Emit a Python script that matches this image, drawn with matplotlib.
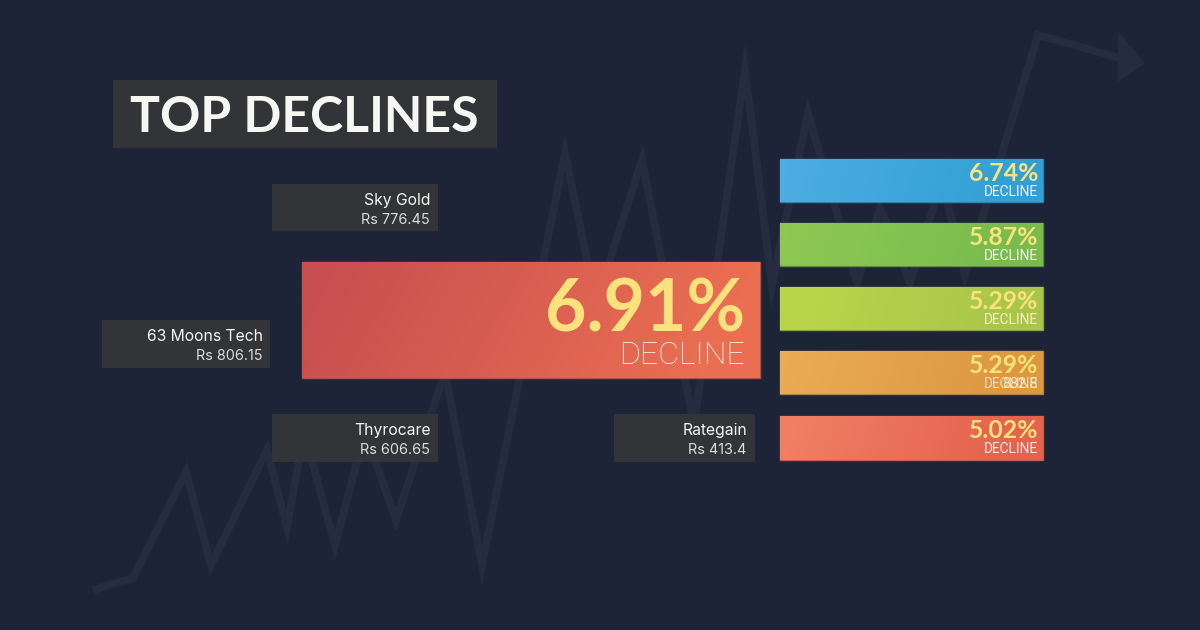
import numpy as np
import matplotlib
matplotlib.use("Agg")
import matplotlib.pyplot as plt
from matplotlib.colors import to_rgb
from matplotlib.patches import Polygon

# ---- data ----
title = "TOP DECLINES"
companies = ["Sky Gold", "63 Moons Tech", "Thyrocare", "Rategain"]
prices = ["Rs 776.45", "Rs 806.15", "Rs 606.65", "Rs 413.4"]
top_pct = ["6.91%"]
side_pct = ["6.74%", "5.87%", "5.29%", "5.29%", "5.02%"]
side_sub = ["DECLINE", "DECLINE", "DECLINE", "DECLINE", "DECLINE"]
ghost_text = "882.8"
trend_x = [93, 133, 186, 211, 267, 287, 304, 335, 365, 396, 445, 482, 565, 596, 642, 694, 745, 772, 808, 857, 880, 910, 942, 965, 1038, 1120]
trend_y = [590, 578, 472, 565, 450, 527, 432, 545, 432, 520, 372, 565, 153, 303, 160, 425, 70, 285, 113, 283, 208, 283, 180, 275, 35, 58]
arrow_x = [1118, 1118, 1145]
arrow_y = [32, 82, 63]

# ---- layout & styles (px) ----
BG = "#1e2437"
LINE = "#252c40"
BOX = "#333438"
YEL = "#fae27c"
WHITE = "#f6f6f3"
GREY = "#dcdcdc"
FONT = ["Lato", "DejaVu Sans"]
LABEL_FONT = ["Inter", "DejaVu Sans"]
THIN_FONT = ["Roboto", "DejaVu Sans"]

fig = plt.figure(figsize=(12, 6.3), dpi=100, facecolor=BG)
ax = fig.add_axes([0, 0, 1, 1])
ax.set_xlim(0, 1200)
ax.set_ylim(630, 0)
ax.axis("off")


def gradient_bar(x0, x1, y0, y1, c_left, c_right, edge, tilt=0.15, z=3):
    bar = ax.barh((y0 + y1) / 2, x1 - x0, height=y1 - y0, left=x0,
                  color=c_left, edgecolor=edge, linewidth=1, zorder=z)[0]
    n = 64
    xx, yy = np.meshgrid(np.linspace(0, 1, n), np.linspace(0, 1, n))
    t = np.clip((xx * (1 - tilt) + yy * tilt) * 1.2 - 0.05, 0, 1)[..., None]
    a, b = np.array(to_rgb(c_left)), np.array(to_rgb(c_right))
    img = a * (1 - t) + b * t
    im = ax.imshow(img, extent=(x0, x1, y1, y0), aspect="auto",
                   zorder=z + 0.1, interpolation="bilinear")
    im.set_clip_path(bar)
    ax.set_xlim(0, 1200)
    ax.set_ylim(630, 0)


def box(x0, x1, y0, y1, z=4):
    ax.barh((y0 + y1) / 2, x1 - x0, height=y1 - y0, left=x0, color=BOX,
            linewidth=0, zorder=z)


# background trend line
ax.plot(trend_x, trend_y, color=LINE, lw=5.6, solid_joinstyle="miter",
        solid_capstyle="butt", zorder=1)
ax.add_patch(Polygon(np.column_stack([arrow_x, arrow_y]), closed=True,
                     facecolor=LINE, edgecolor="none", zorder=1))

# title
box(113, 497, 80, 148)
ax.text(130, 114, title, color=WHITE, fontsize=36, fontweight="bold",
        family=FONT, ha="left", va="center_baseline", zorder=5)

# company labels
label_boxes = [(272, 438, 184, 231), (102, 270, 320, 368),
               (272, 438, 414, 462), (614, 755, 414, 462)]
label_right = [431, 263, 431, 747]
for name, price, b, xr in zip(companies, prices, label_boxes, label_right):
    box(*b)
    ax.text(xr, b[2] + 21, name, color=WHITE, fontsize=11.3, family=LABEL_FONT,
            ha="right", va="baseline", zorder=5)
    ax.text(xr - 1, b[2] + 40.5, price, color=GREY, fontsize=10.4, family=LABEL_FONT,
            ha="right", va="baseline", zorder=5)

# main bar
gradient_bar(302, 760, 262, 378, "#c84e50", "#ea6e52", "#b0504a", tilt=0.12)
ax.text(745, 331, top_pct[0], color=YEL, fontsize=51.5, fontweight="bold", family=FONT,
        ha="right", va="baseline", zorder=6)
ax.text(746, 364, "DECLINE", color=WHITE, fontsize=23, fontweight="light", family=THIN_FONT,
        ha="right", va="baseline", zorder=6)

# side bars
side_y = [(159, 202), (223, 265.5), (287, 330), (351, 394), (416, 460)]
side_left = ["#4cade2", "#8ec853", "#b9d64a", "#eaab55", "#f07f63"]
side_right = ["#32a0d4", "#79bc4d", "#a9c64b", "#dc983f", "#e5624f"]
side_edge = ["#2f7fae", "#5c8c42", "#86a03f", "#a88048", "#c85a48"]
sub_colors = ["#eef5f8", "#f0f5e4", "#f5f3b8", "#f6eeda", "#f8ece6"]
for i, (p, sub, (y0, y1)) in enumerate(zip(side_pct, side_sub, side_y)):
    gradient_bar(780, 1043, y0, y1, side_left[i], side_right[i], side_edge[i], tilt=0.05)
    ax.text(1038, y0 + 22, p, color=YEL, fontsize=17.8, fontweight="bold", family=FONT,
            ha="right", va="baseline", zorder=6)
    ax.text(1038, y0 + 37, sub, color=sub_colors[i], fontsize=9.9, family=THIN_FONT,
            ha="right", va="baseline", zorder=6, fontweight="normal",
            alpha=0.8 if i == 3 else 1.0)
ax.text(1038, side_y[3][0] + 37, ghost_text, color="#f4ecda", fontsize=10.4, family=THIN_FONT,
        ha="right", va="baseline", zorder=6, fontweight="normal", alpha=0.9)

fig.savefig("out.png", dpi=100, facecolor=BG)
